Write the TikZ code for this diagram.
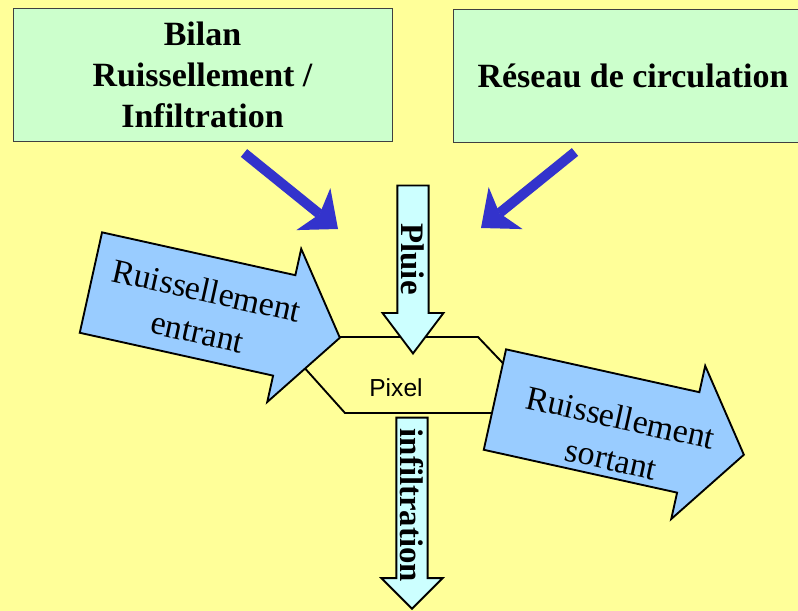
\documentclass[tikz,border=0pt]{standalone}
\usepackage{fontspec}
\setmainfont{Liberation Serif}
\setsansfont{Liberation Sans}
\usepackage{tikz}
\usetikzlibrary{shapes.arrows, arrows.meta, positioning}
\definecolor{canvas}{HTML}{FFFF99}
\definecolor{mint}{HTML}{CCFFCC}
\definecolor{flowblue}{HTML}{99CCFF}
\definecolor{rainblue}{HTML}{CCFFFF}
\definecolor{hintblue}{HTML}{3333CC}
\definecolor{framegray}{HTML}{404040}
\tikzset{
  themebox/.style={
    rectangle, minimum height=3.99cm,
    text centered, align=center, draw=framegray, line width=0.8pt,
    fill=mint, font=\bfseries\fontsize{29}{35}\selectfont,
  },
  cellborder/.style={draw=black, line width=1.6pt},
  celllabel/.style={font=\sffamily\fontsize{21}{25}\selectfont},
  hint/.style={
    -{Stealth[length=0.95cm, width=1.62cm, inset=0.24cm, line width=0pt]},
    line width=0.3cm, color=hintblue,
  },
  flowarrow/.style={
    single arrow, draw=black, line width=1.6pt, fill=flowblue,
    minimum height=7.65cm, minimum width=4.65cm,
    inner xsep=0pt, inner ysep=1.515cm,
    single arrow head extend=0.81cm, single arrow tip angle=108,
    rotate=-12.5, anchor=tip,
  },
  flowtext/.style={
    rotate=-12.5, align=center, font=\fontsize{29}{36}\selectfont,
  },
  rainarrow/.style={
    single arrow, draw=black, line width=1.6pt, fill=rainblue,
    minimum width=1.83cm, single arrow head extend=0.36cm,
    inner xsep=0pt, inner ysep=0pt, font=\bfseries\fontsize{28}{34}\selectfont,
    rotate=-90, anchor=tip,
  },
}

\begin{document}
\begin{tikzpicture}[x=0.03cm, y=-0.03cm]

  % fond
  \path[use as bounding box, clip] (0,0) rectangle (798,611);
  \fill[canvas] (0,0) rectangle (798,611);

  \node[themebox, minimum width=11.37cm] (bilan) at (202.5,74.5) {Bilan\\Ruissellement /\\Infiltration};
  \node[themebox, minimum width=10.8cm] (reseau) at (633,76) {Réseau de circulation};

  % pixel
  \draw[cellborder] (302,365) -- (340,337) -- (478,337) -- (518,379) -- (500,413) -- (345,413) -- cycle;
  \node[celllabel] (pixel) at (396,388) {Pixel};

  \coordinate (bilanfoot) at (244,153);
  \coordinate (bilanhit) at (338,229);
  \coordinate (reseaufoot) at (575,152);
  \coordinate (reseauhit) at (481,228);
  \draw[hint] (bilanfoot) -- (bilanhit);
  \draw[hint] (reseaufoot) -- (reseauhit);

  \node[flowarrow] (entrant) at (341,338) {};
  \node[flowtext] (entranttext) at ([shift={(5,5)}]entrant.center) {Ruissellement\\entrant};
  \node[flowarrow] (sortant) at (745,455) {};
  \node[flowtext] (sortanttext) at ([shift={(15,15)}]sortant.center) {Ruissellement\\sortant};
  \node[rainarrow, minimum height=5.04cm, single arrow tip angle=74] (pluie) at (413,355) {Pluie};
  \node[rainarrow, minimum height=5.73cm] (infiltration) at (412,610) {infiltration};

\end{tikzpicture}
\end{document}
